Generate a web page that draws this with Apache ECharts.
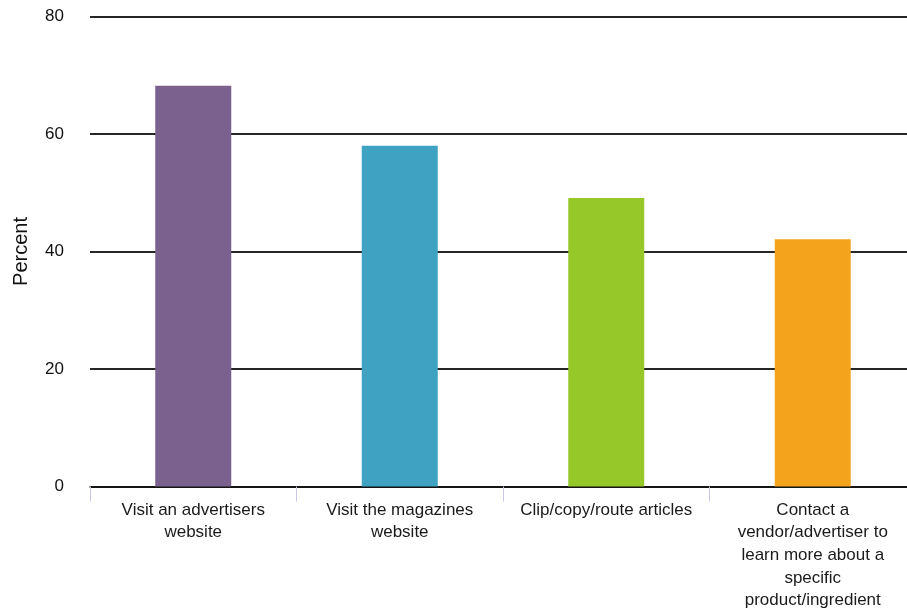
<!DOCTYPE html>
<html>
<head>
<meta charset="utf-8">
<script src="https://cdn.jsdelivr.net/npm/echarts@6/dist/echarts.min.js"></script>
<style>
  html, body { margin: 0; padding: 0; background: #fff; }
  #chart { width: 907px; height: 612px; }
</style>
</head>
<body>
<div id="chart"></div>
<script>
// Activities readers take after seeing an issue (percent of respondents)
const categories = [
  'Visit an advertisers\nwebsite',
  'Visit the magazines\nwebsite',
  'Clip/copy/route articles',
  'Contact a\nvendor/advertiser to\nlearn more about a\nspecific\nproduct/ingredient'
];
const percentValues = [68.2, 58.0, 49.1, 42.1];
const barColors = ['#7b618d', '#40a2c2', '#97c82a', '#f4a41c'];
const yTicks = [0, 20, 40, 60, 80];

const chart = echarts.init(document.getElementById('chart'), null, { renderer: 'canvas' });

chart.setOption({
  animation: false,
  textStyle: { fontFamily: 'Liberation Sans, Arial, sans-serif' },
  grid: {
    left: 90, top: 16.5, width: 826, height: 470,
    containLabel: false,
    outerBoundsMode: 'none'
  },
  xAxis: {
    type: 'category',
    data: categories,
    axisLine: { lineStyle: { color: '#111', width: 1.5 } },
    axisTick: { show: true, length: 15, lineStyle: { color: '#c9c9e6', width: 1 } },
    axisLabel: {
      color: '#1a1a1a',
      fontSize: 17,
      lineHeight: 22.7,
      margin: 12,
      interval: 0,
      align: 'center'
    }
  },
  yAxis: {
    type: 'value',
    min: yTicks[0],
    max: yTicks[yTicks.length - 1],
    interval: 20,
    name: 'Percent',
    nameLocation: 'middle',
    nameGap: 59,
    nameRotate: 90,
    nameTextStyle: { color: '#111', fontSize: 20 },
    axisLine: { show: false },
    axisTick: { show: false },
    axisLabel: { color: '#111', fontSize: 17, margin: 26 },
    splitLine: { lineStyle: { color: '#262626', width: 2 } }
  },
  series: [{
    type: 'bar',
    barWidth: 76,
    data: percentValues.map((v, i) => ({ value: v, itemStyle: { color: barColors[i] } }))
  }]
});
</script>
</body>
</html>
